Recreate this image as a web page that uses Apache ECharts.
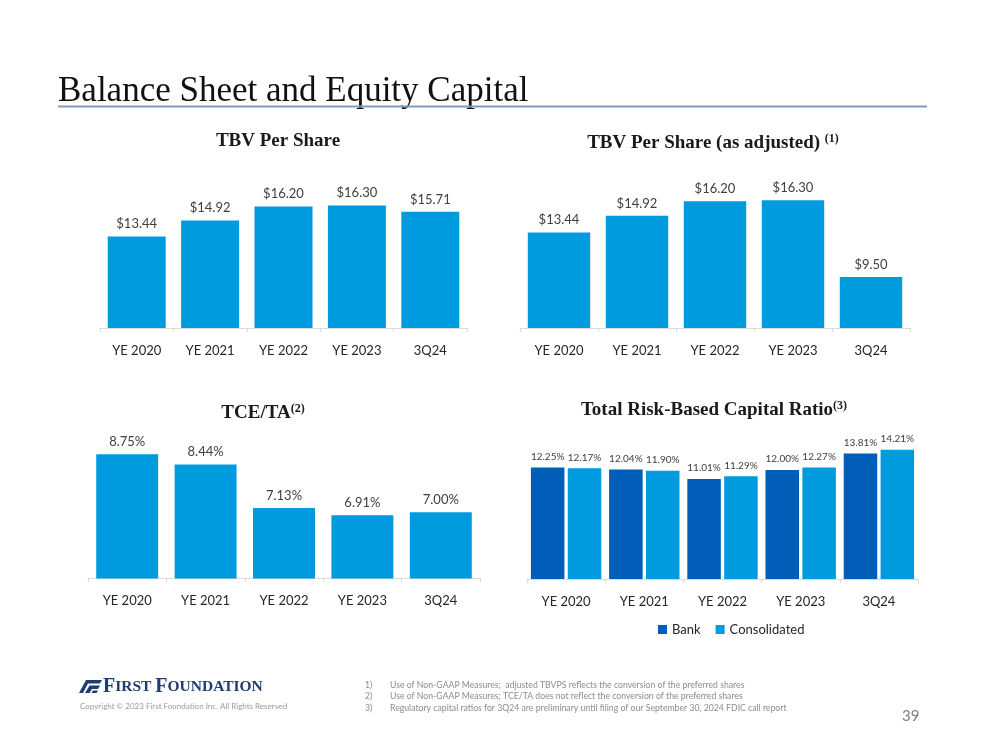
<!DOCTYPE html>
<html>
<head>
<meta charset="utf-8">
<script src="https://cdn.jsdelivr.net/npm/echarts@6/dist/echarts.min.js"></script>
<style>
html,body{margin:0;padding:0;background:#fff;}
#chart{width:999px;height:750px;}
</style>
</head>
<body>
<div id="chart"></div>
<script>
const categories = ['YE 2020', 'YE 2021', 'YE 2022', 'YE 2023', '3Q24'];
const tbvPerShare = [13.44, 14.92, 16.20, 16.30, 15.71];
const tbvAdjusted = [13.44, 14.92, 16.20, 16.30, 9.50];
const tceTa = [8.75, 8.44, 7.13, 6.91, 7.00];
const bankRatio = [12.25, 12.04, 11.01, 12.00, 13.81];
const consolidatedRatio = [12.17, 11.90, 11.29, 12.27, 14.21];
const seriesNames = ['Bank', 'Consolidated'];
const footnotes = [
  'Use of Non-GAAP Measures;  adjusted TBVPS reflects the conversion of the preferred shares',
  'Use of Non-GAAP Measures; TCE/TA does not reflect the conversion of the preferred shares',
  'Regulatory capital ratios for 3Q24 are preliminary until filing of our September 30, 2024 FDIC call report'
];

const BRIGHT = '#009ADE';
const DARK = '#005DB8';
const SANS = 'Lato, "Liberation Sans", sans-serif';
const SERIF = '"Liberation Serif", "DejaVu Serif", serif';

const chart = echarts.init(document.getElementById('chart'), null, {renderer: 'canvas'});

function catAxis(gridIndex) {
  return {
    type: 'category', gridIndex, data: categories,
    axisLine: {lineStyle: {color: '#D9D9D9', width: 1}},
    axisTick: {show: true, length: 4, lineStyle: {color: '#D9D9D9'}},
    axisLabel: {color: '#262626', fontFamily: SANS, fontSize: 13, margin: 16}
  };
}
function valAxis(gridIndex, min, max) {
  return {
    type: 'value', gridIndex, min, max, show: false,
    splitLine: {show: false}
  };
}
function label(fmt, size) {
  return {show: true, position: 'top', distance: 6, color: '#404040', fontFamily: SANS, fontSize: size, formatter: fmt};
}
const dollar = p => '$' + p.value.toFixed(2);
const pct = p => p.value.toFixed(2) + '%';

const titleRich = {
  m: {fontFamily: SERIF, fontWeight: 'bold', fontSize: 19, fill: '#1a1a1a'},
  s: {fontFamily: SERIF, fontWeight: 'bold', fontSize: 12, fill: '#1a1a1a', padding: [0, 0, 8, 0]}
};
function titleText(x, y, txt) {
  return {
    type: 'text', x, y,
    style: {text: txt, rich: titleRich, align: 'center', verticalAlign: 'middle'}
  };
}
const FN = '8.7px ' + SANS;

const option = {
  backgroundColor: '#ffffff',
  animation: false,
  grid: [
    {left: 100, top: 187, width: 367, height: 141},
    {left: 520, top: 181, width: 390, height: 147},
    {left: 88, top: 429.5, width: 392, height: 149},
    {left: 527, top: 433.5, width: 391, height: 145.6}
  ],
  xAxis: [catAxis(0), catAxis(1), catAxis(2), catAxis(3)],
  yAxis: [valAxis(0, 5, 18), valAxis(1, 5, 18), valAxis(2, 5, 9.5), valAxis(3, 0, 16)],
  legend: {
    data: seriesNames, left: 653, top: 618, itemWidth: 9, itemHeight: 9, itemGap: 15,
    icon: 'rect', textStyle: {fontFamily: SANS, fontSize: 13, color: '#262626'}
  },
  series: [
    {type: 'bar', xAxisIndex: 0, yAxisIndex: 0, data: tbvPerShare, barCategoryGap: '21%',
     itemStyle: {color: BRIGHT}, label: label(dollar, 13)},
    {type: 'bar', xAxisIndex: 1, yAxisIndex: 1, data: tbvAdjusted, barCategoryGap: '20%',
     itemStyle: {color: BRIGHT}, label: label(dollar, 13)},
    {type: 'bar', xAxisIndex: 2, yAxisIndex: 2, data: tceTa, barCategoryGap: '21%',
     itemStyle: {color: BRIGHT}, label: label(pct, 13)},
    {type: 'bar', name: seriesNames[0], xAxisIndex: 3, yAxisIndex: 3, data: bankRatio,
     barGap: '10%', barCategoryGap: '10%', itemStyle: {color: DARK}, label: label(pct, 10)},
    {type: 'bar', name: seriesNames[1], xAxisIndex: 3, yAxisIndex: 3, data: consolidatedRatio,
     barGap: '10%', barCategoryGap: '10%', itemStyle: {color: BRIGHT}, label: label(pct, 10)}
  ],
  graphic: [
    {type: 'text', left: 58, top: 74,
     style: {text: 'Balance Sheet and Equity Capital', font: '35px ' + SERIF, fill: '#111'}},
    {type: 'rect', shape: {x: 58, y: 105.5, width: 869, height: 2}, style: {fill: '#7F9DB9'}},
    titleText(278, 141, '{m|TBV Per Share}'),
    titleText(713, 143, '{m|TBV Per Share (as adjusted) }{s|(1)}'),
    titleText(263, 413, '{m|TCE/TA}{s|(2)}'),
    titleText(714, 410, '{m|Total Risk-Based Capital Ratio}{s|(3)}'),
    // logo icon
    {type: 'polygon', shape: {points: [[79, 693], [86, 680], [102, 680], [100, 683.5], [88, 683.5], [83, 693]]}, style: {fill: '#1F3C73'}},
    {type: 'polygon', shape: {points: [[85, 693], [89.5, 685.5], [100, 685.5], [98, 689], [92, 689], [89.5, 693]]}, style: {fill: '#1F3C73'}},
    {type: 'polygon', shape: {points: [[91.5, 693], [93, 690.5], [98, 690.5], [96.5, 693]]}, style: {fill: '#1F3C73'}},
    {type: 'text', left: 103, top: 677,
     style: {text: '{b|F}{c|IRST }{b|F}{c|OUNDATION}',
       rich: {b: {fontFamily: SERIF, fontWeight: 'bold', fontSize: 20, fill: '#1F3C73'},
              c: {fontFamily: SERIF, fontWeight: 'bold', fontSize: 15.5, fill: '#1F3C73'}}}},
    {type: 'text', left: 80, top: 702,
     style: {text: 'Copyright \u00A9 2023 First Foundation Inc. All Rights Reserved', font: '8px ' + SANS, fill: '#9a9a9a'}},
    // footnotes
    {type: 'text', left: 365, top: 681, style: {text: '1)', font: FN, fill: '#8c8c8c'}},
    {type: 'text', left: 390, top: 681, style: {text: footnotes[0], font: FN, fill: '#8c8c8c'}},
    {type: 'text', left: 365, top: 692, style: {text: '2)', font: FN, fill: '#8c8c8c'}},
    {type: 'text', left: 390, top: 692, style: {text: footnotes[1], font: FN, fill: '#8c8c8c'}},
    {type: 'text', left: 365, top: 704, style: {text: '3)', font: FN, fill: '#8c8c8c'}},
    {type: 'text', left: 390, top: 704, style: {text: footnotes[2], font: FN, fill: '#8c8c8c'}},
    {type: 'text', left: 902, top: 709, style: {text: '39', font: '15px ' + SANS, fill: '#7f7f7f'}}
  ]
};
chart.setOption(option);
</script>
</body>
</html>
